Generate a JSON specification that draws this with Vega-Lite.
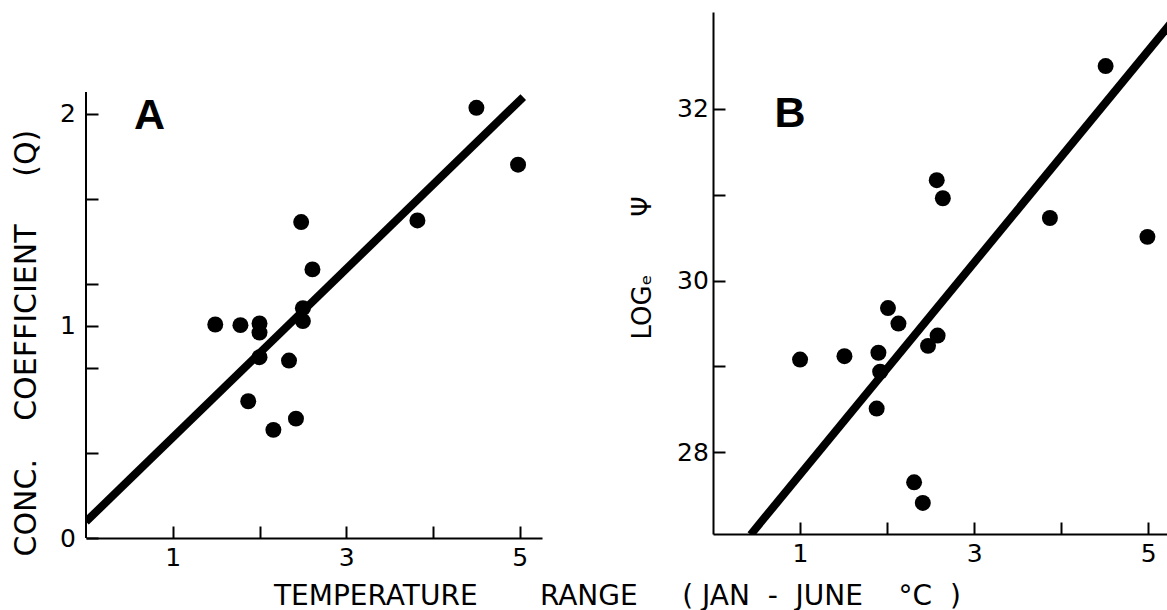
{
  "$schema": "https://vega.github.io/schema/vega-lite/v6.json",
  "padding": {"left": 11, "top": 12, "right": 0, "bottom": 0},
  "background": "white",
  "datasets": {
    "a": [
      {"x": 1.49, "y": 1.007}, {"x": 1.78, "y": 1.004}, {"x": 2.0, "y": 1.012}, {"x": 2.0, "y": 0.969},
      {"x": 2.0, "y": 0.853}, {"x": 1.87, "y": 0.645}, {"x": 2.16, "y": 0.51}, {"x": 2.34, "y": 0.837},
      {"x": 2.42, "y": 0.563}, {"x": 2.48, "y": 1.49}, {"x": 2.61, "y": 1.267}, {"x": 2.5, "y": 1.084},
      {"x": 2.5, "y": 1.023}, {"x": 3.82, "y": 1.498}, {"x": 4.5, "y": 2.029}, {"x": 4.98, "y": 1.761}
    ],
    "b": [
      {"x": 4.51, "y": 32.5}, {"x": 4.99, "y": 30.51}, {"x": 3.87, "y": 30.73}, {"x": 2.57, "y": 31.17},
      {"x": 2.64, "y": 30.96}, {"x": 2.01, "y": 29.68}, {"x": 2.13, "y": 29.5}, {"x": 2.58, "y": 29.36},
      {"x": 2.47, "y": 29.24}, {"x": 1.0, "y": 29.08}, {"x": 1.51, "y": 29.12}, {"x": 1.9, "y": 29.16},
      {"x": 1.92, "y": 28.94}, {"x": 1.88, "y": 28.51}, {"x": 2.31, "y": 27.65}, {"x": 2.41, "y": 27.41}
    ],
    "lineA": [{"x": 0, "y": 0.077}, {"x": 5.04, "y": 2.08}],
    "lineB": [{"x": 0.432, "y": 27.04}, {"x": 5.3, "y": 33.05}]
  },
  "hconcat": [
    {
      "width": 456,
      "height": 526,
      "layer": [
        {
          "data": {"name": "a"},
          "mark": {"type": "circle", "size": 255, "color": "black", "opacity": 1},
          "encoding": {
            "x": {
              "field": "x", "type": "quantitative",
              "scale": {"domain": [0, 5.256], "nice": false, "zero": false},
              "axis": {
                "values": [1, 2, 3, 4, 5],
                "tickCount": 20,
                "labelExpr": "datum.value === 1 ? '1' : datum.value === 3 ? '3' : datum.value === 5 ? '5' : ''",
                "labelOverlap": false,
                "labelFlush": false,
                "tickSize": -12,
                "labelPadding": 19,
                "title": "TEMPERATURE\u00a0\u00a0\u00a0\u00a0\u00a0\u00a0\u00a0RANGE\u00a0\u00a0\u00a0\u00a0\u00a0(\u00a0JAN\u00a0\u00a0-\u00a0\u00a0JUNE\u00a0\u00a0\u00a0\u00a0°C\u00a0\u00a0)",
                "titleX": 187.5,
                "titleY": 66,
                "titleAlign": "left",
                "titleAnchor": "start",
                "titleBaseline": "alphabetic",
                "titleFontSize": 28
              }
            },
            "y": {
              "field": "y", "type": "quantitative",
              "scale": {"domain": [0, 2.481], "nice": false, "zero": false},
              "axis": {
                "values": [0, 0.4, 0.8, 1, 1.2, 1.6, 2],
                "tickCount": 20,
                "labelExpr": "datum.value === 0 ? '0' : datum.value === 1 ? '1' : datum.value === 2 ? '2' : ''",
                "labelOverlap": false,
                "labelFlush": false,
                "domain": false,
                "tickSize": -12,
                "labelPadding": 22.5,
                "title": "CONC.\u00a0\u00a0\u00a0\u00a0COEFFICIENT\u00a0\u00a0\u00a0\u00a0\u00a0(Q)",
                "titleX": -50.5,
                "titleY": 544,
                "titleAngle": 270,
                "titleAlign": "left",
                "titleBaseline": "alphabetic",
                "titleFontSize": 30
              }
            }
          }
        },
        {
          "data": {"values": [{}]},
          "mark": {"type": "rule", "strokeWidth": 2, "color": "black"},
          "encoding": {
            "x": {"datum": 0, "type": "quantitative"},
            "y": {"datum": 0, "type": "quantitative"},
            "y2": {"datum": 2.104}
          }
        },
        {
          "data": {"name": "lineA"},
          "mark": {"type": "line", "strokeWidth": 8, "color": "black", "strokeCap": "butt", "clip": true},
          "encoding": {
            "x": {"field": "x", "type": "quantitative"},
            "y": {"field": "y", "type": "quantitative"}
          }
        },
        {
          "data": {"values": [{"label": "A"}]},
          "mark": {"type": "text", "font": "Liberation Sans", "fontWeight": "bold", "fontSize": 43, "align": "center", "baseline": "middle", "dy": 3, "color": "black"},
          "encoding": {
            "x": {"datum": 0.732, "type": "quantitative"},
            "y": {"datum": 2.005, "type": "quantitative"},
            "text": {"field": "label"}
          }
        }
      ]
    },
    {
      "width": 454,
      "height": 522,
      "layer": [
        {
          "data": {"name": "b"},
          "mark": {"type": "circle", "size": 255, "color": "black", "opacity": 1},
          "encoding": {
            "x": {
              "field": "x", "type": "quantitative",
              "scale": {"domain": [0, 5.215], "nice": false, "zero": false},
              "axis": {
                "values": [1, 2, 3, 4, 5],
                "tickCount": 20,
                "labelExpr": "datum.value === 1 ? '1' : datum.value === 3 ? '3' : datum.value === 5 ? '5' : ''",
                "labelOverlap": false,
                "labelFlush": false,
                "tickSize": -12,
                "labelPadding": 19.5,
                "title": null
              }
            },
            "y": {
              "field": "y", "type": "quantitative",
              "scale": {"domain": [27.048, 33.13], "nice": false, "zero": false},
              "axis": {
                "values": [28, 29, 30, 31, 32],
                "tickCount": 20,
                "labelExpr": "datum.value === 28 ? '28' : datum.value === 30 ? '30' : datum.value === 32 ? '32' : ''",
                "labelOverlap": false,
                "labelFlush": false,
                "tickSize": -12,
                "labelPadding": 16.7,
                "title": "LOGₑ\u00a0\u00a0\u00a0\u00a0\u00a0\u00a0\u00a0Ψ",
                "titleX": -63,
                "titleY": 327,
                "titleAngle": 270,
                "titleAlign": "left",
                "titleBaseline": "alphabetic",
                "titleFontSize": 26
              }
            }
          }
        },
        {
          "data": {"name": "lineB"},
          "mark": {"type": "line", "strokeWidth": 8, "color": "black", "strokeCap": "butt", "clip": true},
          "encoding": {
            "x": {"field": "x", "type": "quantitative"},
            "y": {"field": "y", "type": "quantitative"}
          }
        },
        {
          "data": {"values": [{"label": "B"}]},
          "mark": {"type": "text", "font": "Liberation Sans", "fontWeight": "bold", "fontSize": 43, "align": "center", "baseline": "middle", "dy": 3, "color": "black"},
          "encoding": {
            "x": {"datum": 0.884, "type": "quantitative"},
            "y": {"datum": 31.98, "type": "quantitative"},
            "text": {"field": "label"}
          }
        }
      ]
    }
  ],
  "spacing": 171,
  "bounds": "flush",
  "config": {
    "font": "DejaVu Sans",
    "view": {"stroke": null},
    "axis": {
      "grid": false,
      "domainColor": "black",
      "domainWidth": 2,
      "tickColor": "black",
      "tickWidth": 2,
      "labelColor": "black",
      "labelFont": "DejaVu Sans",
      "labelFontSize": 25,
      "labelFlush": false,
      "labelOverlap": false,
      "titleColor": "black",
      "titleFont": "DejaVu Sans",
      "titleFontWeight": "normal"
    }
  }
}
